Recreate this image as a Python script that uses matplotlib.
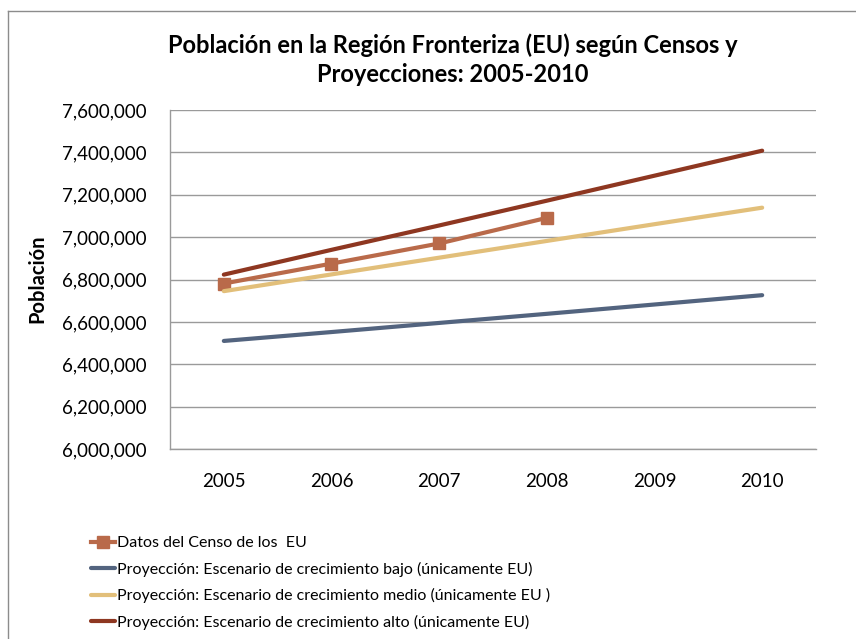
import numpy as np
import matplotlib.pyplot as plt
from matplotlib.lines import Line2D
from matplotlib.ticker import FuncFormatter

plt.rcParams['font.family'] = ['Lato', 'DejaVu Sans']

years = ['2005', '2006', '2007', '2008', '2009', '2010']
censo = [6781000, 6875000, 6970000, 7091000]
bajo = [6510000, 6552000, 6595000, 6638000, 6682000, 6726000]
medio = [6745000, 6824000, 6903000, 6982000, 7061000, 7139000]
alto = [6823000, 6940000, 7055000, 7172000, 7290000, 7408000]

labels = ['Datos del Censo de los  EU',
          'Proyección: Escenario de crecimiento bajo (únicamente EU)',
          'Proyección: Escenario de crecimiento medio (únicamente EU )',
          'Proyección: Escenario de crecimiento alto (únicamente EU)']

fig = plt.figure(figsize=(8.56, 6.39), dpi=100)
ax = fig.add_axes([170/856, 1-449/639, 646/856, 339/639])

x = np.arange(len(years))
l1, = ax.plot(x[:len(censo)], censo, color='#B96A4A', lw=3, marker='s', ms=8)
l2, = ax.plot(x, bajo, color='#53647F', lw=3, solid_capstyle='round')
l3, = ax.plot(x, medio, color='#E2BF7A', lw=3, solid_capstyle='round')
l4, = ax.plot(x, alto, color='#8E3721', lw=3, solid_capstyle='round')

ax.set_xlim(-0.5, 5.5)
ax.set_ylim(6000000, 7600000)
ax.set_yticks(np.arange(6000000, 7600001, 200000))
ax.yaxis.set_major_formatter(FuncFormatter(lambda v, p: f'{int(v):,}'))
ax.set_xticks(x)
ax.set_xticklabels(years)
ax.tick_params(length=0, labelsize=13.5, colors='black')
ax.tick_params(axis='y', pad=17)
ax.tick_params(axis='x', pad=17)
ax.grid(axis='y', color='#9a9a9a', lw=1)
ax.set_axisbelow(True)
for s in ['top', 'right']:
    ax.spines[s].set_visible(False)
for s in ['left', 'bottom']:
    ax.spines[s].set_color('#9a9a9a')
    ax.spines[s].set_linewidth(1)

fig.text(37/856, 1-279/639, 'Población', rotation=90, ha='center', va='center',
         fontsize=14.5, fontweight='bold')
fig.text(453/856, 1-45/639, 'Población en la Región Fronteriza (EU) según Censos y',
         ha='center', va='center', fontsize=17, fontweight='bold')
fig.text(453/856, 1-75/639, 'Proyecciones: 2005-2010',
         ha='center', va='center', fontsize=17, fontweight='bold')

fig.legend([l1, l2, l3, l4], labels, loc='upper left',
           bbox_to_anchor=(91/856, 1-536/639), frameon=False, fontsize=11.5,
           handlelength=1.5, handletextpad=0.15, labelspacing=0.72,
           borderpad=0, borderaxespad=0)

# outer chart border (left and top visible)
fig.add_artist(Line2D([8/856, 8/856], [0, 1-11/639], color='#8c8c8c', lw=1,
                      transform=fig.transFigure))
fig.add_artist(Line2D([8/856, 1], [1-11/639, 1-11/639], color='#8c8c8c', lw=1,
                      transform=fig.transFigure))

fig.savefig('out.png', dpi=100)
